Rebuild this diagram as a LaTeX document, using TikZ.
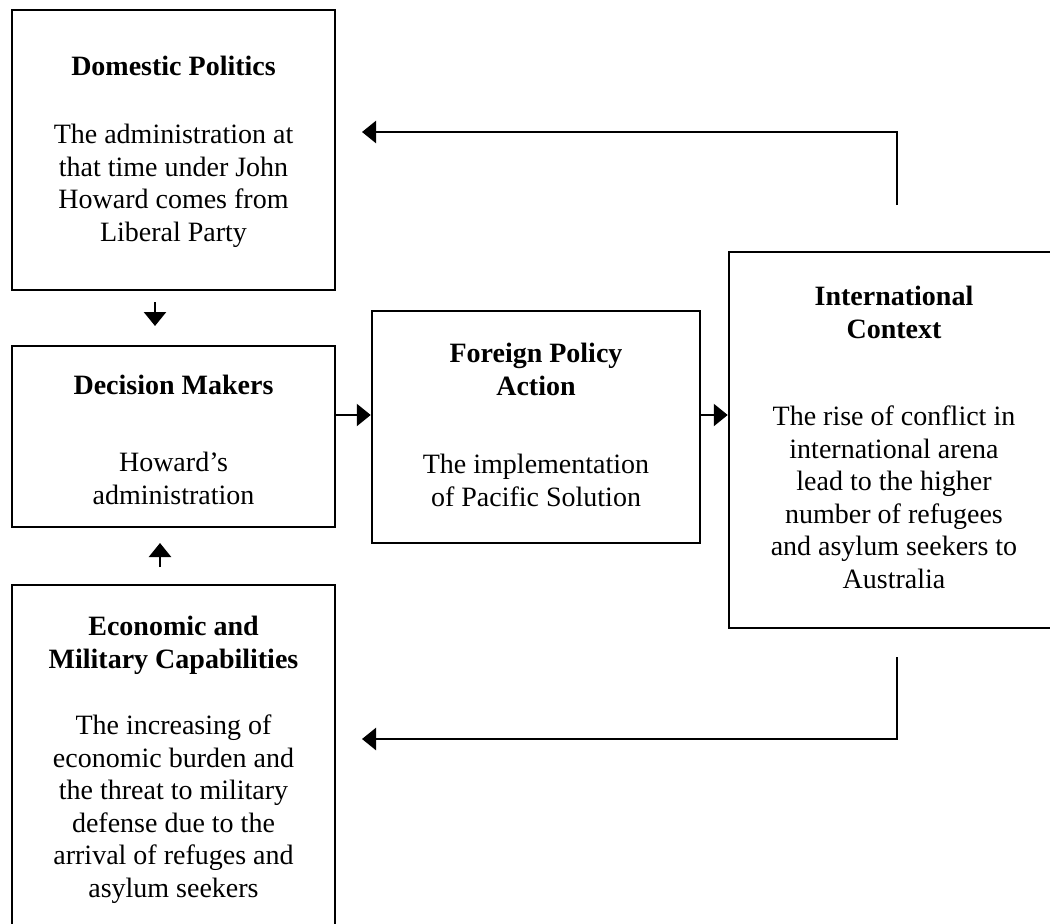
\documentclass[tikz,border=0pt]{standalone}
\usepackage{fontspec}
\setmainfont{Liberation Serif}
\usetikzlibrary{arrows.meta}
\begin{document}
\begin{tikzpicture}[x=1pt,y=-1pt,
  box/.style={draw, line width=2.5pt, rectangle, inner sep=0pt},
  txt/.style={align=center, inner sep=0pt, anchor=north, font=\fontsize{28}{32.5}\selectfont},
  ttl/.style={align=center, inner sep=0pt, anchor=north, font=\fontsize{28}{33}\selectfont\bfseries},
  arr/.style={line width=2.5pt, -{Triangle[length=14pt,width=22pt]}},
  ln/.style={line width=2.5pt}]
\useasboundingbox (0,0) rectangle (1050,924);
\clip (0,0) rectangle (1050,924);
% boxes
\node[box, minimum width=323pt, minimum height=280pt] (dp) at (173.5,150) {};
\node[box, minimum width=323pt, minimum height=181pt] (dm) at (173.5,436.5) {};
\node[box, minimum width=323pt, minimum height=350pt] (ec) at (173.5,760) {};
\node[box, minimum width=328pt, minimum height=232pt] (fp) at (536,427) {};
\node[box, minimum width=331pt, minimum height=376pt] (ic) at (894.5,440) {};
% texts
\node[ttl] (dpt) at (173.5,56) {Domestic Politics};
\node[txt] (dpb) at (173.5,124) {The administration at\\that time under John\\Howard comes from\\Liberal Party};
\node[ttl] (dmt) at (173.5,375) {Decision Makers};
\node[txt] (dmb) at (173.5,452) {Howard’s\\administration};
\node[ttl] (fpt) at (536,343) {Foreign Policy\\Action};
\node[txt] (fpb) at (536,454) {The implementation\\of Pacific Solution};
\node[ttl] (ict) at (894,286) {International\\Context};
\node[txt] (icb) at (894,406) {The rise of conflict in\\international arena\\lead to the higher\\number of refugees\\and asylum seekers to\\Australia};
\node[ttl] (ect) at (173.5,616) {Economic and\\Military Capabilities};
\node[txt] (ecb) at (173.5,715) {The increasing of\\economic burden and\\the threat to military\\defense due to the\\arrival of refuges and\\asylum seekers};
% connector coordinates
\coordinate (row) at (0,415);
\coordinate (dnS) at (155,302);
\coordinate (dnE) at (155,326);
\coordinate (upS) at (160,567);
\coordinate (upE) at (160,543);
\coordinate (fbTopS) at (897,205);
\coordinate (fbTopC) at (897,132);
\coordinate (fbTopE) at (362,132);
\coordinate (fbBotS) at (897,657);
\coordinate (fbBotC) at (897,739);
\coordinate (fbBotE) at (362,739);
% connectors
\draw[arr] (dnS) -- (dnE);
\draw[arr] (upS) -- (upE);
\draw[arr] (dm.east |- row) -- (fp.west |- row);
\draw[arr] (fp.east |- row) -- (ic.west |- row);
\draw[arr] (fbTopS) -- (fbTopC) -- (fbTopE);
\draw[arr] (fbBotS) -- (fbBotC) -- (fbBotE);
\end{tikzpicture}
\end{document}
